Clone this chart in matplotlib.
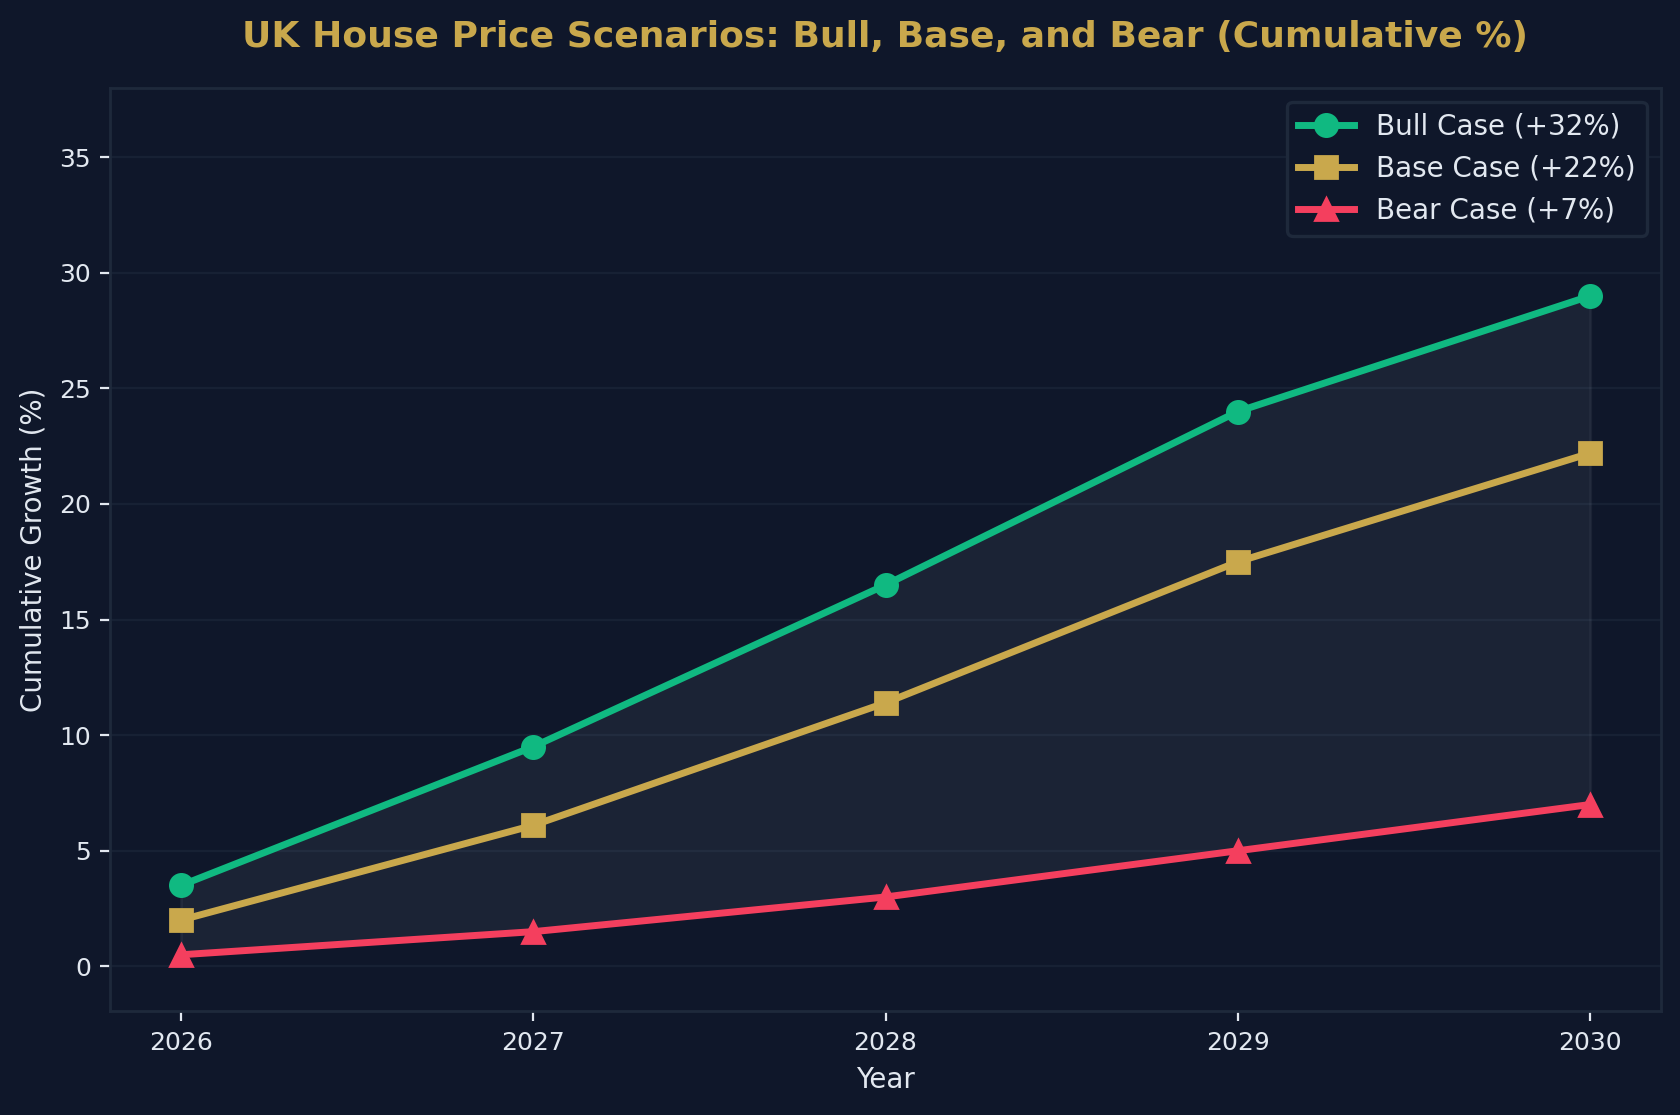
import matplotlib
matplotlib.use("Agg")
import matplotlib.pyplot as plt

years = [2026, 2027, 2028, 2029, 2030]
bull = [3.5, 9.5, 16.5, 24.0, 29.0]
base = [2.0, 6.1, 11.4, 17.5, 22.2]
bear = [0.5, 1.5, 3.0, 5.0, 7.0]
labels = ["Bull Case (+32%)", "Base Case (+22%)", "Bear Case (+7%)"]

BG = "#0f172a"
TXT = "#e2e8f0"
GRID = "#1e293b"

fig = plt.figure(figsize=(8.4, 5.575), dpi=200, facecolor=BG)
ax = fig.add_axes([0.0657, 0.0929, 0.9228, 0.8283], facecolor=BG)

ax.fill_between(years, bear, bull, color="#e2e8f0", alpha=0.06, linewidth=1)
ax.plot(years, bull, color="#10b981", lw=2.5, marker="o", ms=8, label=labels[0])
ax.plot(years, base, color="#c9a84c", lw=2.5, marker="s", ms=8, label=labels[1])
ax.plot(years, bear, color="#f43f5e", lw=2.5, marker="^", ms=8, label=labels[2])

ax.set_xlim(2025.8, 2030.2)
ax.set_ylim(-1.95, 38)
ax.set_xticks(years)
ax.set_yticks([0, 5, 10, 15, 20, 25, 30, 35])
ax.grid(True, axis="y", color=GRID, linewidth=0.8, alpha=0.6)
ax.set_axisbelow(True)
for s in ax.spines.values():
    s.set_color(GRID)
    s.set_linewidth(1)
ax.tick_params(colors=TXT, labelsize=9)

ax.set_xlabel("Year", color=TXT, fontsize=10)
ax.set_ylabel("Cumulative Growth (%)", color=TXT, fontsize=10)
fig.suptitle("UK House Price Scenarios: Bull, Base, and Bear (Cumulative %)",
             color="#c9a84c", fontsize=13, fontweight="bold", x=0.527, y=0.982)

leg = ax.legend(loc="upper right", fontsize=10, facecolor=BG, edgecolor=GRID,
                labelcolor=TXT, framealpha=1)
leg.get_frame().set_linewidth(1.2)

fig.savefig("out.png", dpi=200, facecolor=BG)
